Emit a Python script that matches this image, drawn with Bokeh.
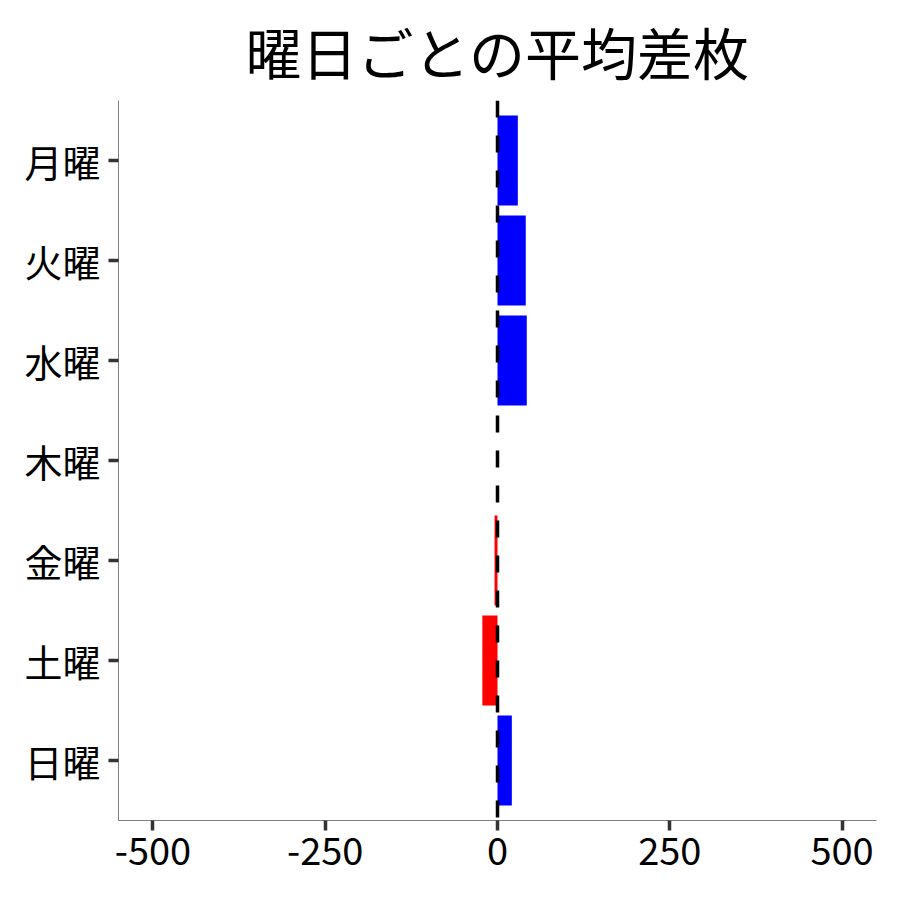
from bokeh.plotting import figure
from bokeh.models import FactorRange, Range1d, FixedTicker, Span, ColumnDataSource
from bokeh.embed import file_html
from bokeh.resources import INLINE

title_text = "曜日ごとの平均差枚"
days = ["月曜", "火曜", "水曜", "木曜", "金曜", "土曜", "日曜"]
avg_diff = [29.5, 41, 42.5, 0, -4.3, -22, 20.8]
x_ticks = [-500, -250, 0, 250, 500]
x_tick_labels = ["-500", "-250", "0", "250", "500"]

colors = ["#0000FF" if v >= 0 else "#FF0000" for v in avg_diff]
src = ColumnDataSource(dict(day=days, val=avg_diff, zero=[0] * len(days), color=colors))

FONT = "Noto Sans CJK JP"

p = figure(
    width=892, height=892,
    y_range=FactorRange(factors=list(reversed(days)), range_padding=0.2 / 7, range_padding_units="percent"),
    x_range=Range1d(-550, 550),
    output_backend="svg", toolbar_location=None,
    title=title_text,
    min_border_left=118, min_border_right=16, min_border_bottom=72, min_border_top=100,
)

p.hbar(y="day", left="zero", right="val", height=0.9, color="color", line_color=None, source=src)

p.add_layout(Span(location=0, dimension="height", line_color="black", line_width=3.5, line_dash="17 18"))

p.title.text_font = FONT
p.title.text_font_size = "56px"
p.title.text_font_style = "normal"
p.title.align = "center"
p.title.vertical_align = "top"
p.title.text_color = "black"
p.title.standoff = 16

p.xgrid.visible = False
p.ygrid.visible = False
p.outline_line_color = None

p.xaxis.ticker = FixedTicker(ticks=x_ticks)
p.xaxis.major_label_overrides = {t: l for t, l in zip(x_ticks, x_tick_labels)}

for ax in (p.xaxis[0], p.yaxis[0]):
    ax.axis_line_color = "#7f7f7f"
    ax.axis_line_width = 1
    ax.major_tick_line_color = "#333333"
    ax.major_tick_line_width = 3.5
    ax.major_tick_in = 0
    ax.major_tick_out = 10
    ax.minor_tick_line_color = None
    ax.major_label_text_font = FONT
    ax.major_label_text_font_size = "38px"
    ax.major_label_text_color = "black"

p.xaxis.major_label_standoff = 6
p.yaxis.major_label_standoff = 8

open("out.html", "w").write(file_html(p, INLINE))
